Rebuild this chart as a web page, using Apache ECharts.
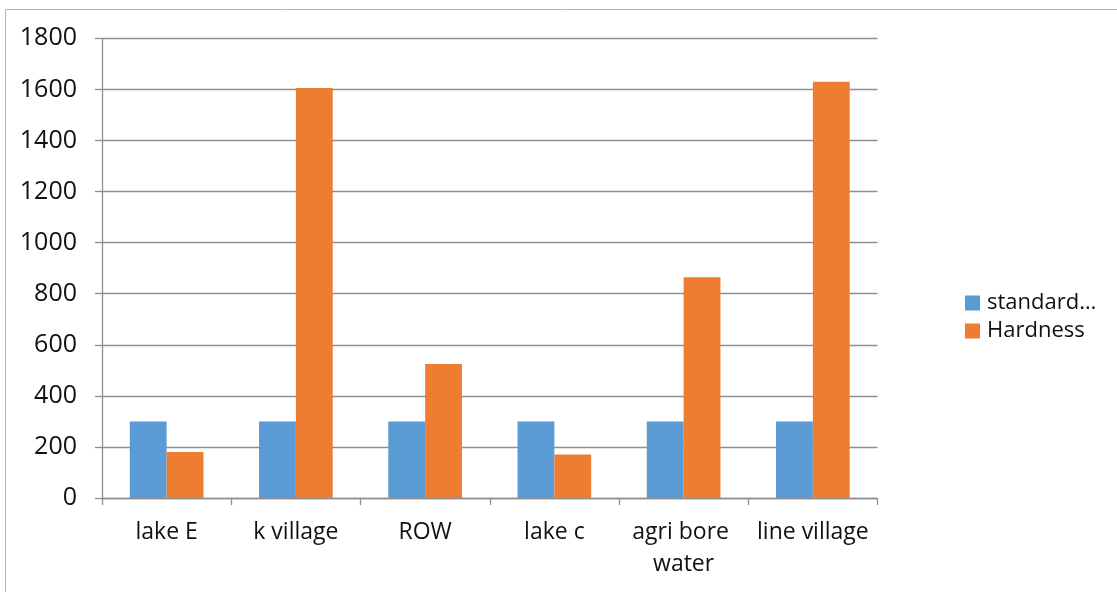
<!DOCTYPE html>
<html>
<head>
<meta charset="utf-8">
<title>Hardness</title>
<script src="https://cdn.jsdelivr.net/npm/echarts@6/dist/echarts.min.js"></script>
<style>
  html, body { margin: 0; padding: 0; background: #fff; }
  #chart { width: 1117px; height: 592px; }
</style>
</head>
<body>
<div id="chart"></div>
<script>
// Sampling sites along the x axis
const categories = ['lake E', 'k village', 'ROW', 'lake c', 'agri bore water', 'line village'];
// Permissible limit for each site
const standardValues = [300, 300, 300, 300, 300, 300];
// Measured total hardness
const hardnessValues = [180, 1605, 525, 170, 864, 1630];
const seriesNames = ['standard…', 'Hardness'];

const FONT = '"Open Sans", "Noto Sans", sans-serif';
const TEXT = '#111111';
const LINE = '#8f8f8f';

const chart = echarts.init(document.getElementById('chart'), null, { renderer: 'canvas' });

chart.setOption({
  animation: false,
  backgroundColor: '#ffffff',
  textStyle: { fontFamily: FONT },
  graphic: [{
    type: 'rect',
    shape: { x: 5.5, y: 9.5, width: 1200, height: 700 },
    style: { fill: 'none', stroke: '#b4b4b4', lineWidth: 1 },
    silent: true,
    z: 0
  }],
  grid: { left: 102, right: 239.5, top: 38.3, bottom: 94, containLabel: false },
  legend: {
    orient: 'vertical',
    left: 960,
    top: 286,
    icon: 'rect',
    itemWidth: 15,
    itemHeight: 15,
    itemGap: 4,
    selectedMode: false,
    textStyle: { fontFamily: FONT, fontSize: 22, color: TEXT, lineHeight: 24, padding: [0, 0, 0, 2] },
    data: seriesNames
  },
  xAxis: {
    type: 'category',
    data: categories,
    axisLine: { show: true, lineStyle: { color: LINE, width: 1.3 } },
    axisTick: { show: true, length: 7, alignWithLabel: false, lineStyle: { color: LINE, width: 1.3 } },
    axisLabel: {
      fontFamily: FONT, fontSize: 23, color: TEXT, margin: 18, lineHeight: 32,
      interval: 0, width: 124, overflow: 'break'
    },
    splitLine: { show: false }
  },
  yAxis: {
    type: 'value',
    min: 0,
    max: 1800,
    interval: 200,
    axisLine: { show: true, lineStyle: { color: LINE, width: 1.3 } },
    axisTick: { show: true, length: 7, lineStyle: { color: LINE, width: 1.3 } },
    axisLabel: {
      fontFamily: FONT, fontSize: 25, color: TEXT, margin: 25,
      formatter: function (v) { return String(v); }
    },
    splitLine: { show: true, lineStyle: { color: LINE, width: 1.3 } }
  },
  series: [
    {
      name: seriesNames[0],
      type: 'bar',
      data: standardValues,
      barGap: '0%',
      barCategoryGap: '43%',
      itemStyle: { color: '#5B9BD5' }
    },
    {
      name: seriesNames[1],
      type: 'bar',
      data: hardnessValues,
      barGap: '0%',
      barCategoryGap: '43%',
      itemStyle: { color: '#ED7D31' }
    }
  ]
});
</script>
</body>
</html>
